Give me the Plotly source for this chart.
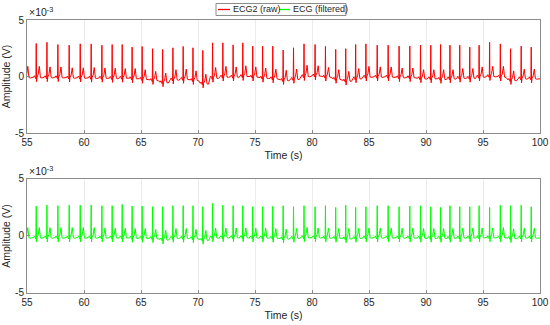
import plotly.graph_objects as go

# ---- data (amplitudes in units of 1e-3 V, times in s) ----
beat_times = [54.80, 55.81, 56.75, 57.71, 58.70, 59.67, 60.63, 61.57, 62.47, 63.35,
              64.22, 65.10, 66.02, 66.90, 67.80, 68.70, 69.56, 70.42, 71.28, 72.18,
              73.08, 73.93, 74.80, 75.67, 76.56, 77.47, 78.38, 79.30, 80.27, 81.18,
              82.08, 82.96, 83.83, 84.73, 85.72, 86.68, 87.64, 88.58, 89.52, 90.42,
              91.28, 92.10, 92.96, 93.84, 94.66, 95.58, 96.52, 97.42, 98.35, 99.23]

raw_r_peak = [2.85, 2.92, 3.03, 2.83, 2.77, 2.89, 2.89, 2.77, 2.83, 2.83,
              2.60, 2.66, 2.46, 2.40, 2.54, 2.66, 2.54, 2.31, 2.98, 2.98,
              2.80, 2.98, 2.69, 2.69, 2.69, 2.34, 2.54, 2.89, 2.83, 2.66,
              2.40, 2.46, 2.83, 2.89, 2.77, 2.77, 2.69, 2.69, 2.77, 2.77,
              2.83, 2.77, 2.77, 2.60, 2.77, 3.03, 2.89, 2.46, 2.69, 2.60]
raw_t_wave = [0.95, 0.95, 0.90, 0.90, 0.85, 0.85, 0.90, 0.85, 0.85, 0.80,
              0.85, 0.80, 0.75, 0.80, 0.85, 0.85, 0.80, 0.80, 0.90, 0.90,
              0.85, 0.90, 0.85, 0.85, 0.80, 0.85, 0.85, 0.95, 0.85, 0.80,
              0.80, 0.80, 0.85, 0.90, 0.85, 0.85, 0.80, 0.80, 0.75, 0.75,
              0.80, 0.75, 0.80, 0.80, 0.85, 0.85, 0.90, 0.80, 0.80, 0.80]
raw_baseline = [-0.05, -0.05, -0.05, -0.05, -0.08, -0.08, -0.10, -0.10, -0.12, -0.10,
                -0.15, -0.20, -0.30, -0.50, -0.25, -0.20, -0.30, -0.60, -0.10, 0.00,
                0.00, 0.05, 0.00, -0.10, -0.15, -0.30, -0.20, 0.05, 0.10, 0.00,
                -0.20, -0.35, -0.15, 0.00, 0.00, 0.00, -0.05, -0.05, -0.15, -0.15,
                -0.20, -0.15, -0.10, -0.10, 0.00, 0.05, 0.00, -0.30, -0.15, -0.15]

filt_r_peak = [2.65, 2.62, 2.70, 2.65, 2.70, 2.70, 2.70, 2.65, 2.65, 2.76,
               2.62, 2.62, 2.56, 2.56, 2.65, 2.65, 2.65, 2.56, 2.85, 2.70,
               2.65, 2.65, 2.56, 2.56, 2.60, 2.65, 2.56, 2.65, 2.56, 2.65,
               2.50, 2.70, 2.50, 2.56, 2.65, 2.65, 2.56, 2.62, 2.65, 2.56,
               2.50, 2.65, 2.56, 2.56, 2.65, 2.50, 2.70, 2.65, 2.70, 2.56]
filt_t_wave = [0.85, 0.85, 0.85, 0.85, 0.85, 0.85, 0.85, 0.80, 0.80, 0.80,
               0.80, 0.80, 0.75, 0.80, 0.80, 0.80, 0.75, 0.80, 0.80, 0.80,
               0.80, 0.80, 0.80, 0.80, 0.80, 0.80, 0.80, 0.85, 0.80, 0.80,
               0.80, 0.85, 0.80, 0.80, 0.80, 0.80, 0.80, 0.80, 0.80, 0.80,
               0.80, 0.80, 0.80, 0.80, 0.80, 0.80, 0.85, 0.80, 0.80, 0.80]
filt_baseline = [-0.12, -0.12, -0.12, -0.12, -0.12, -0.12, -0.12, -0.12, -0.12, -0.12,
                 -0.15, -0.15, -0.18, -0.30, -0.15, -0.15, -0.18, -0.32, -0.12, -0.10,
                 -0.10, -0.10, -0.12, -0.12, -0.15, -0.20, -0.15, -0.10, -0.10, -0.12,
                 -0.15, -0.20, -0.15, -0.12, -0.12, -0.12, -0.12, -0.12, -0.15, -0.15,
                 -0.15, -0.15, -0.12, -0.12, -0.10, -0.10, -0.12, -0.18, -0.12, -0.12]

series_names = ["ECG2 (raw)", "ECG (filtered)"]
series_colors = ["#ff0000", "#00ff00"]

x_ticks = [55, 60, 65, 70, 75, 80, 85, 90, 95, 100]
y_ticks = [-5, 0, 5]
y_tick_labels = ["-5", "0", "5"]


def waveform(times, r_peak, t_wave, base, x_end):
    xs, ys = [], []
    for t, rp, ta, b in zip(times, r_peak, t_wave, base):
        pts = [(-0.22, b), (-0.16, b + 0.12), (-0.10, b), (-0.03, b - 0.15),
               (0.0, rp), (0.03, b - 0.40), (0.07, b), (0.17, b + 0.25 * ta),
               (0.27, b + ta), (0.37, b - 0.05), (0.50, b - 0.08)]
        for dt, v in pts:
            xs.append(t + dt)
            ys.append(v)
    xs.append(x_end)
    ys.append(base[-1])
    return xs, ys


x_end = x_ticks[-1] + 0.5
xr, yr = waveform(beat_times, raw_r_peak, raw_t_wave, raw_baseline, x_end)
xf, yf = waveform(beat_times, filt_r_peak, filt_t_wave, filt_baseline, x_end)

fig = go.Figure()
fig.add_trace(go.Scatter(x=xr, y=yr, mode="lines", name=series_names[0],
                         line=dict(color=series_colors[0], width=1), xaxis="x", yaxis="y"))
fig.add_trace(go.Scatter(x=xf, y=yf, mode="lines", name=series_names[1],
                         line=dict(color=series_colors[1], width=1), xaxis="x2", yaxis="y2"))

W, H = 550, 325
ML, MR, MT, MB = 27, 10, 20, 32
font_family = "Liberation Sans, Arial, sans-serif"
text_color = "#262626"
tick_font = dict(family=font_family, size=10, color=text_color)
axis_common = dict(showline=True, linecolor="#8c8c8c", linewidth=1, mirror=True,
                   ticks="inside", ticklen=3, tickcolor="#8c8c8c",
                   showgrid=True, gridcolor="#ebebeb", gridwidth=1,
                   zeroline=False, tickfont=tick_font, automargin=False)

xax = dict(axis_common, range=[x_ticks[0], x_ticks[-1]], tickvals=x_ticks,
           title=dict(text="Time (s)", font=dict(family=font_family, size=10.5, color=text_color),
                      standoff=4))
yax = dict(axis_common, range=[y_ticks[0], y_ticks[-1]], tickvals=y_ticks, ticktext=y_tick_labels,
           title=dict(text="Amplitude (V)", font=dict(family=font_family, size=10.5, color=text_color),
                      standoff=4))

fig.update_layout(
    width=W, height=H,
    margin=dict(l=ML, r=MR, t=MT, b=MB, autoexpand=False),
    paper_bgcolor="white", plot_bgcolor="white",
    xaxis=dict(xax, anchor="y", domain=[0, 1]),
    yaxis=dict(yax, anchor="x", domain=[0.586, 1]),
    xaxis2=dict(xax, anchor="y2", domain=[0, 1]),
    yaxis2=dict(yax, anchor="x2", domain=[0, 0.418]),
    showlegend=False,
)


# pixel -> paper helpers for the legend box drawn above the plot
def px(xp):
    return (xp - ML) / (W - ML - MR)


def py(yp):
    return (H - MB - yp) / (H - MT - MB)


# legend box
fig.add_shape(type="rect", xref="paper", yref="paper", layer="below",
              x0=px(216), x1=px(346), y0=py(3.5), y1=py(15.5),
              line=dict(color="#8c8c8c", width=1), fillcolor="white")
legend_line_x = [(218, 230), (279, 290)]
legend_text_x = [231, 291]
for i in range(2):
    fig.add_shape(type="line", xref="paper", yref="paper", layer="above",
                  x0=px(legend_line_x[i][0]), x1=px(legend_line_x[i][1]),
                  y0=py(9.5), y1=py(9.5), line=dict(color=series_colors[i], width=1.3))
    fig.add_annotation(text=series_names[i], xref="paper", yref="paper",
                       x=px(legend_text_x[i]), y=py(9.5), xanchor="left", yanchor="middle",
                       showarrow=False, font=dict(family=font_family, size=9, color=text_color))

for ydom in [1.0, 0.418]:
    fig.add_annotation(text="×10<sup>-3</sup>", xref="paper", yref="paper",
                       x=0, y=ydom, xanchor="left", yanchor="bottom", showarrow=False,
                       font=dict(family=font_family, size=10.5, color=text_color))

fig.write_html("out.html", config={"displayModeBar": False},
               post_script="document.body.style.margin='0';")
